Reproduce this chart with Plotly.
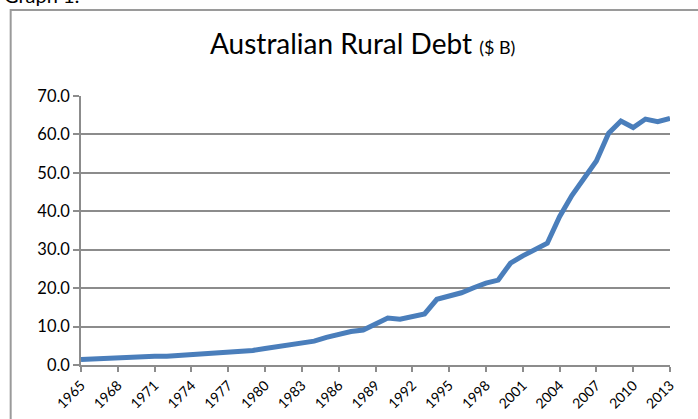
import plotly.graph_objects as go

years = list(range(1965, 2014))
debt = [1.4, 1.6, 1.8, 2.0, 2.1, 2.2, 2.3, 2.3, 2.5, 2.7,
        2.8, 2.9, 3.1, 3.4, 3.8, 4.3, 4.8, 5.1, 5.8, 6.2,
        7.2, 8.1, 8.7, 9.1, 10.8, 12.2, 11.9, 12.6, 13.3, 17.1,
        17.8, 18.8, 20.1, 21.3, 22.1, 26.5, 28.4, 30.2, 31.7, 38.6,
        44.1, 48.6, 53.1, 60.3, 63.5, 61.8, 64.0, 63.3, 64.2]
tick_years = list(range(1965, 2014, 3))
y_ticks = [0, 10, 20, 30, 40, 50, 60, 70]

FONT = "Lato"
GRID = "#8c8c8c"

fig = go.Figure()
fig.add_trace(go.Scatter(x=years, y=debt, mode="lines",
                         line=dict(color="#4a7ebb", width=5),
                         hoverinfo="x+y", showlegend=False))

fig.update_layout(
    width=698, height=419,
    margin=dict(l=81, r=28, t=96, b=54),
    paper_bgcolor="white", plot_bgcolor="white",
    font=dict(family=FONT, color="#000000"),
    xaxis=dict(range=[1965, 2013], tickmode="array", tickvals=tick_years,
               ticktext=[str(y) for y in tick_years], tickangle=-45,
               showgrid=False, zeroline=False, showline=True, automargin=False,
               linecolor=GRID, linewidth=1.5, ticks="outside", ticklen=5,
               tickcolor=GRID, tickwidth=1.5, tickfont=dict(size=14, family=FONT)),
    yaxis=dict(range=[0, 70], tickmode="array", tickvals=y_ticks,
               ticktext=[f"{v:.1f}" for v in y_ticks], automargin=False,
               showgrid=True, gridcolor=GRID, gridwidth=1.5, zeroline=False,
               showline=True, linecolor=GRID, linewidth=1.5, ticks="outside",
               ticklen=6, tickcolor=GRID, tickwidth=1.5,
               tickfont=dict(size=16.5, family=FONT)),
    shapes=[dict(type="rect", xref="paper", yref="paper",
                 x0=-0.1194, x1=1.2, y0=1.3197, y1=-0.4,
                 line=dict(color="#9a9a9a", width=2), fillcolor="rgba(0,0,0,0)",
                 layer="below")],
    annotations=[
        dict(text='Australian Rural Debt <span style="font-size:18px">($ B)</span>',
             xref="paper", yref="paper", x=(362 - 81) / 589, y=(365 - 62) / 269,
             xanchor="center", yanchor="bottom", showarrow=False,
             font=dict(size=28, family=FONT, color="#000000")),
        dict(text="Graph 1:", xref="paper", yref="paper",
             x=(2 - 81) / 589, y=(365 - 9) / 269, xanchor="left", yanchor="bottom",
             showarrow=False, font=dict(size=20, family=FONT, color="#000000")),
    ],
)

fig.write_html("out.html")
